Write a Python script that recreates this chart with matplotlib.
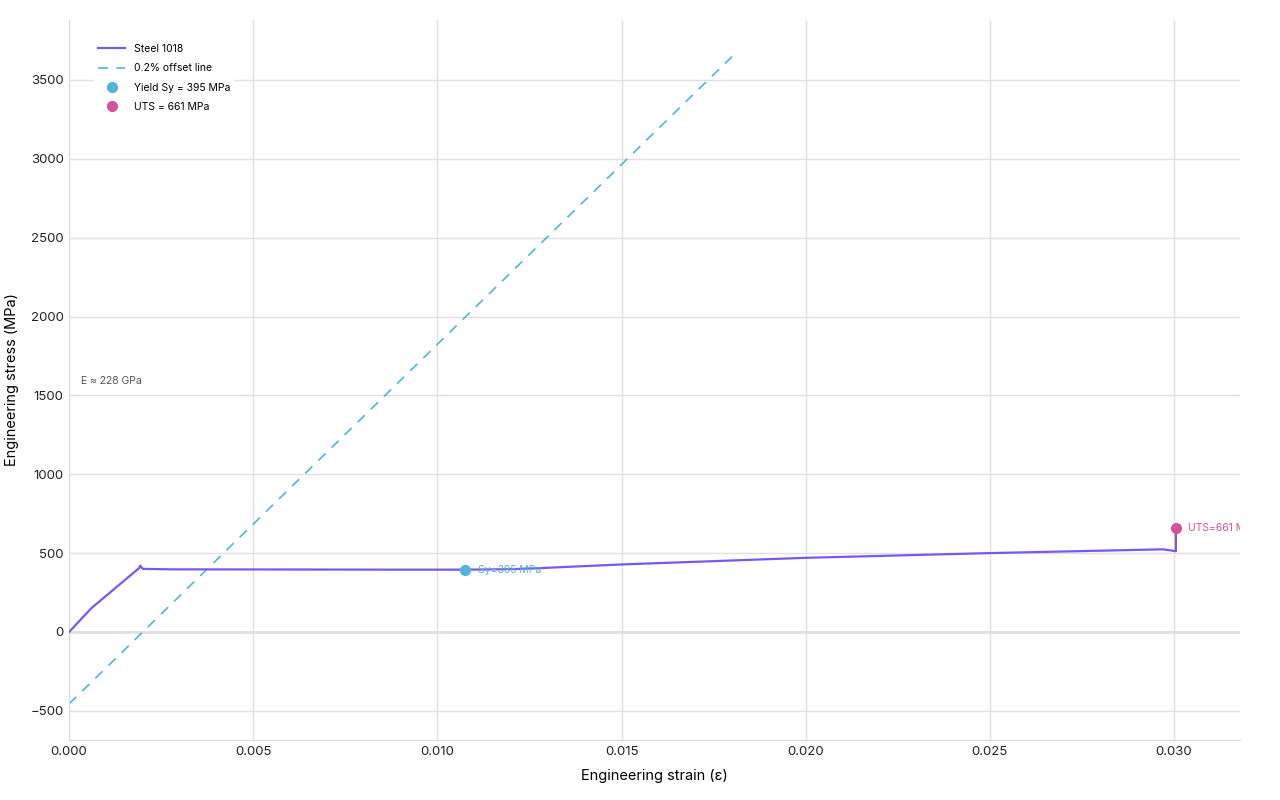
import matplotlib
matplotlib.use('Agg')
import matplotlib.pyplot as plt
import numpy as np

plt.rcParams['font.family'] = ['Inter', 'DejaVu Sans']

# stress-strain curve
strain = [0.0, 0.0006, 0.0019, 0.00193, 0.0020, 0.0028, 0.0060, 0.0090, 0.01075,
          0.0120, 0.0128, 0.0150, 0.0200, 0.0250, 0.0297, 0.03005, 0.03005]
stress = [0, 150, 405, 420, 400, 397, 396, 395, 395,
          398, 405, 428, 470, 500, 524, 512, 661]

E_mpa = 228000
offset_strain = [0.0, 0.0181]
yield_strain, yield_stress = 0.01075, 395
uts_strain, uts_stress = 0.03005, 661

purple = '#7B57EE'
cyan = '#52B4D6'
pink = '#D6509A'

fig = plt.figure(figsize=(12.8, 8), dpi=100)
ax = fig.add_axes([0.054, 0.075, 0.915, 0.9])

ax.plot(strain, stress, color=purple, lw=1.6, label='Steel 1018', zorder=3)
off_y = [E_mpa * (e - 0.002) for e in offset_strain]
ax.plot(offset_strain, off_y, color=cyan, lw=1.2, dashes=(6, 5), label='0.2% offset line', zorder=2)
ax.plot([yield_strain], [yield_stress], 'o', color=cyan, ms=7, label='Yield Sy = 395 MPa', zorder=4)
ax.plot([uts_strain], [uts_stress], 'o', color=pink, ms=7, label='UTS = 661 MPa', zorder=4)

ax.annotate('Sy=395 MPa', (yield_strain, yield_stress), xytext=(9, 0), textcoords='offset points',
            color=cyan, fontsize=7.5, va='center', zorder=5)
ax.annotate('UTS=661 MPa', (uts_strain, uts_stress), xytext=(9, 0), textcoords='offset points',
            color=pink, fontsize=7.5, va='center', annotation_clip=True, clip_on=True)
ax.text(0.00033, 1592, 'E \u2248 228 GPa', color='#555555', fontsize=7.5, va='center')

ax.set_xlim(0, 0.0318)
ax.set_ylim(-685, 3880)
ax.set_xticks(np.arange(0, 0.031, 0.005))
ax.set_xticklabels(['0.000', '0.005', '0.010', '0.015', '0.020', '0.025', '0.030'])
ax.set_yticks(range(-500, 3501, 500))

ax.grid(True, color='#E0E0E6', lw=1)
ax.axhline(0, color='#D8D8DE', lw=1.8, zorder=1)
for s in ['top', 'right']:
    ax.spines[s].set_visible(False)
ax.spines['left'].set_color('#D8D8DE')
ax.spines['bottom'].set_color('#D8D8DE')
ax.tick_params(length=0, labelsize=9.5, colors='#222222', pad=4)

ax.set_xlabel('Engineering strain (\u03b5)', fontsize=10.5, labelpad=8)
ax.set_ylabel('Engineering stress (MPa)', fontsize=10.5, labelpad=8)

leg = ax.legend(loc='upper left', bbox_to_anchor=(0.017, 0.98), fontsize=7.5, frameon=True,
                framealpha=1, edgecolor='white', handlelength=2.6, labelspacing=0.9)
leg.get_frame().set_linewidth(0)

fig.savefig('out.png', dpi=100)
